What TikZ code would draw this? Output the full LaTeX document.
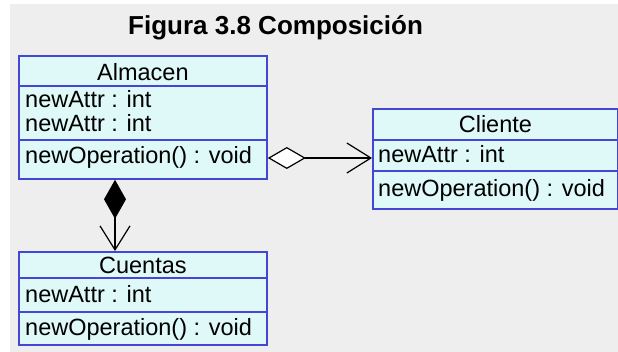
\documentclass[tikz,border=0pt]{standalone}
\usepackage{fontspec}
\setmainfont{Liberation Sans}
\usetikzlibrary{arrows.meta,calc}
\definecolor{canvas}{HTML}{EEEEEE}
\definecolor{classfill}{HTML}{DFF8F8}
\definecolor{classedge}{HTML}{4545D6}
\tikzset{
  x=1pt, y=-1pt,
  classbox/.style={draw=classedge, fill=classfill, line width=1.8pt,
    rectangle, inner sep=0pt, anchor=north west},
  sepline/.style={draw=classedge, line width=1.8pt},
  member/.style={anchor=base west, inner sep=0pt,
    font=\fontsize{23.5}{28}\selectfont},
  cname/.style={anchor=base, inner sep=0pt,
    font=\fontsize{23.5}{28}\selectfont},
  assoc/.style={draw=black, line width=1.3pt},
}
\begin{document}
\begin{tikzpicture}
% canvas
\fill[white] (0,0) rectangle (618,352);
\fill[canvas] (10,4) rectangle (618,352);
\useasboundingbox (0,0) rectangle (618,352);

% title
\node[anchor=base west, inner sep=0pt, font=\fontsize{26}{30}\bfseries\selectfont]
  (title) at (128,35) {Figura 3.8 Composición};

% Almacen
\node[classbox, minimum width=248pt, minimum height=123pt] (alm) at (18,55) {};
\draw[sepline] ($(alm.north west)+(0,31)$) -- ($(alm.north east)+(0,31)$);
\draw[sepline] ($(alm.north west)+(0,85)$) -- ($(alm.north east)+(0,85)$);
\node[cname] (almname) at ($(alm.north)+(0,26)$) {Almacen};
\node[member] (alma1) at ($(alm.north west)+(7,53)$) {newAttr : int};
\node[member] (alma2) at ($(alm.north west)+(7,77)$) {newAttr : int};
\node[member] (almo1) at ($(alm.north west)+(7,109)$) {newOperation() : void};

% Cliente
\node[classbox, minimum width=245pt, minimum height=100pt] (cli) at (372,108) {};
\draw[sepline] ($(cli.north west)+(0,32)$) -- ($(cli.north east)+(0,32)$);
\draw[sepline] ($(cli.north west)+(0,63)$) -- ($(cli.north east)+(0,63)$);
\node[cname] (cliname) at ($(cli.north)+(0,25)$) {Cliente};
\node[member] (clia1) at ($(cli.north west)+(6,55)$) {newAttr : int};
\node[member] (clio1) at ($(cli.north west)+(6,89)$) {newOperation() : void};

% Cuentas
\node[classbox, minimum width=248pt, minimum height=93pt] (cue) at (18,251) {};
\draw[sepline] ($(cue.north west)+(0,27)$) -- ($(cue.north east)+(0,27)$);
\draw[sepline] ($(cue.north west)+(0,61)$) -- ($(cue.north east)+(0,61)$);
\node[cname] (cuename) at ($(cue.north)+(0,23)$) {Cuentas};
\node[member] (cuea1) at ($(cue.north west)+(7,52)$) {newAttr : int};
\node[member] (cueo1) at ($(cue.north west)+(7,84)$) {newOperation() : void};

% aggregation Almacen -> Cliente
\draw[assoc, {Diamond[length=38pt, width=22pt, fill=white, line width=1.2pt]}-{Straight Barb[length=24pt, width=30pt, line width=1.2pt]}]
  ($(alm.north east)+(0,103)$) -- ($(cli.north west)+(0,50)$);

% composition Almacen -> Cuentas
\draw[assoc, {Diamond[length=39pt, width=22pt, fill=black]}-{Straight Barb[length=24pt, width=30pt, line width=1.2pt]}]
  ($(alm.south west)+(97,0)$) -- ($(cue.north west)+(97,0)$);
\end{tikzpicture}
\end{document}
